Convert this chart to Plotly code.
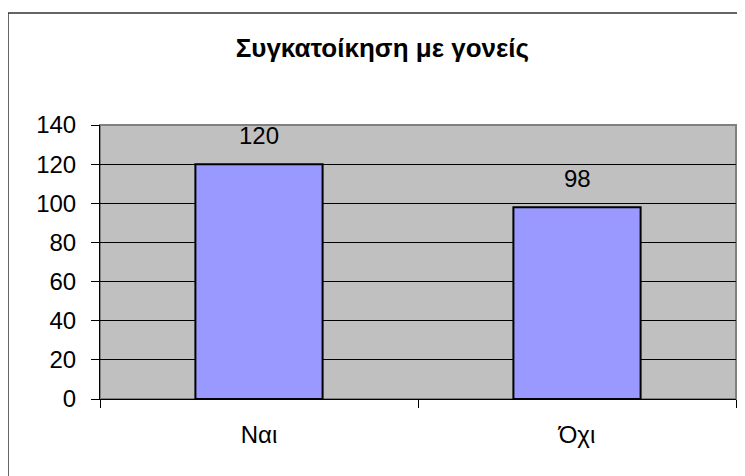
import plotly.graph_objects as go

categories = ["Ναι", "Όχι"]
values = [120, 98]
title_text = "Συγκατοίκηση με γονείς"
y_ticks = [0, 20, 40, 60, 80, 100, 120, 140]

FONT = "Liberation Sans, Arial, sans-serif"

# Page body has an 8px default margin; figure sized so plot area lands at x 100..736, y 125..399
W, H = 737, 468
ML, MR, MT, MB = 92, 9, 117, 77
PW, PH = W - ML - MR, H - MT - MB

fig = go.Figure(
    go.Bar(
        x=categories,
        y=values,
        marker=dict(color="#9999FF", line=dict(color="black", width=2)),
        width=0.4,
        hoverinfo="x+y",
    )
)

annotations = [
    dict(
        x=c, y=v, xref="x", yref="y",
        text=str(v), showarrow=False,
        yanchor="bottom", yshift=13,
        font=dict(family=FONT, size=24, color="black"),
    )
    for c, v in zip(categories, values)
]

fig.update_layout(
    width=W,
    height=H,
    margin=dict(l=ML, r=MR, t=MT, b=MB),
    paper_bgcolor="white",
    plot_bgcolor="#C0C0C0",
    showlegend=False,
    title=dict(
        text="<b>" + title_text + "</b>",
        x=0.508,
        xanchor="center",
        y=1 - 40 / H,
        yanchor="middle",
        font=dict(family=FONT, size=26, color="black"),
    ),
    font=dict(family=FONT, size=24, color="black"),
    xaxis=dict(
        showline=True,
        linecolor="black",
        linewidth=1,
        ticks="outside",
        tickson="boundaries",
        ticklen=8,
        tickcolor="black",
        showgrid=False,
        ticklabelstandoff=14,
        tickfont=dict(family=FONT, size=24, color="black"),
    ),
    yaxis=dict(
        range=[0, 140],
        tickvals=y_ticks,
        showline=True,
        linecolor="black",
        linewidth=1,
        ticks="outside",
        ticklen=8,
        tickcolor="black",
        showgrid=True,
        gridcolor="black",
        gridwidth=1,
        zeroline=False,
        ticklabelstandoff=10,
        tickfont=dict(family=FONT, size=24, color="black"),
    ),
    annotations=annotations,
    shapes=[
        dict(
            type="rect", xref="paper", yref="paper",
            x0=0, x1=1, y0=0, y1=1,
            line=dict(color="#808080", width=2),
            layer="below",
        ),
        dict(
            type="rect", xref="paper", yref="paper",
            x0=(0 - ML) / PW, x1=(W + 20 - ML) / PW,
            y0=(MT + PH - (H + 20)) / PH, y1=(MT + PH - 5) / PH,
            line=dict(color="#333333", width=1.5),
            layer="above",
        ),
    ],
)

fig.write_html("out.html")
